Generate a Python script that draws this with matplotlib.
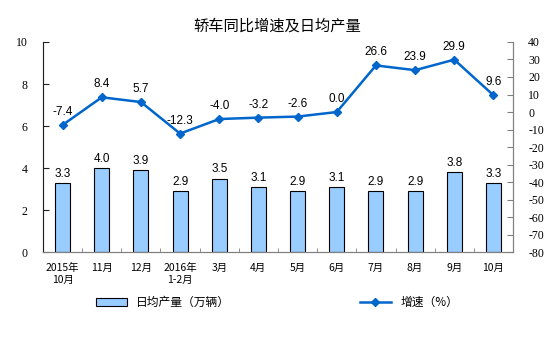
import numpy as np
import matplotlib.pyplot as plt
from matplotlib.lines import Line2D
from matplotlib.patches import Patch

plt.rcParams['font.family'] = ['Noto Sans CJK SC', 'DejaVu Sans']
plt.rcParams['axes.unicode_minus'] = False

categories = ['2015年\n10月', '11月', '12月', '2016年\n1-2月', '3月', '4月',
              '5月', '6月', '7月', '8月', '9月', '10月']
daily_output = [3.3, 4.0, 3.9, 2.9, 3.5, 3.1, 2.9, 3.1, 2.9, 2.9, 3.8, 3.3]
growth = [-7.4, 8.4, 5.7, -12.3, -4.0, -3.2, -2.6, 0.0, 26.6, 23.9, 29.9, 9.6]

x = np.arange(len(categories))
fig = plt.figure(figsize=(5.54, 3.44), dpi=100)
ax = fig.add_axes([0.0776, 0.267, 0.8484, 0.611])
ax2 = ax.twinx()

ax.bar(x, daily_output, width=0.38, color='#99CCFF', edgecolor='black', linewidth=0.8, zorder=2)
for xi, v in zip(x, daily_output):
    ax.text(xi, v + 0.15, f'{v:.1f}', ha='center', va='bottom', fontsize=8.5, family='Liberation Sans')

ax2.plot(x, growth, color='#0066CC', lw=1.8, marker='D', ms=4, zorder=3)
for xi, v in zip(x, growth):
    ax2.text(xi, v + 4, f'{v:.1f}', ha='center', va='bottom', fontsize=8.5, family='Liberation Sans')

ax.set_xlim(-0.5, len(categories) - 0.5)
ax.set_ylim(0, 10)
ax2.set_ylim(-80, 40)
ax.set_yticks(range(0, 11, 2))
ax2.set_yticks(range(-80, 41, 10))

for a in (ax, ax2):
    a.tick_params(axis='y', direction='in', length=4, width=0.8, color='#808080', labelsize=8.5, pad=11)
    for lab in a.get_yticklabels():
        lab.set_family('Liberation Serif')
    for s in a.spines.values():
        s.set_color('#808080')
    a.spines['top'].set_visible(False)
ax2.spines['left'].set_color('#202020')
ax.tick_params(axis='y', color='#202020')

ax.set_xticks(x)
ax.set_xticklabels(categories, fontsize=7.5, fontweight='medium')
ax.tick_params(axis='x', length=0, pad=8)
ax.set_xticks(np.arange(-0.5, len(categories)), minor=True)
ax.tick_params(axis='x', which='minor', direction='in', length=3, color='#808080')

fig.suptitle('轿车同比增速及日均产量', y=0.95, fontsize=11)

handles = [Patch(facecolor='#99CCFF', edgecolor='black', linewidth=0.8),
           Line2D([0], [0], color='#0066CC', lw=1.8, marker='D', ms=4)]
labels = ['日均产量（万辆）', '增速（%）']
fig.legend(handles, labels, loc='center', bbox_to_anchor=(0.5, 0.12), ncol=2,
           frameon=False, fontsize=8.5, columnspacing=11, handlelength=2.6)

fig.savefig('out.png', dpi=100)
